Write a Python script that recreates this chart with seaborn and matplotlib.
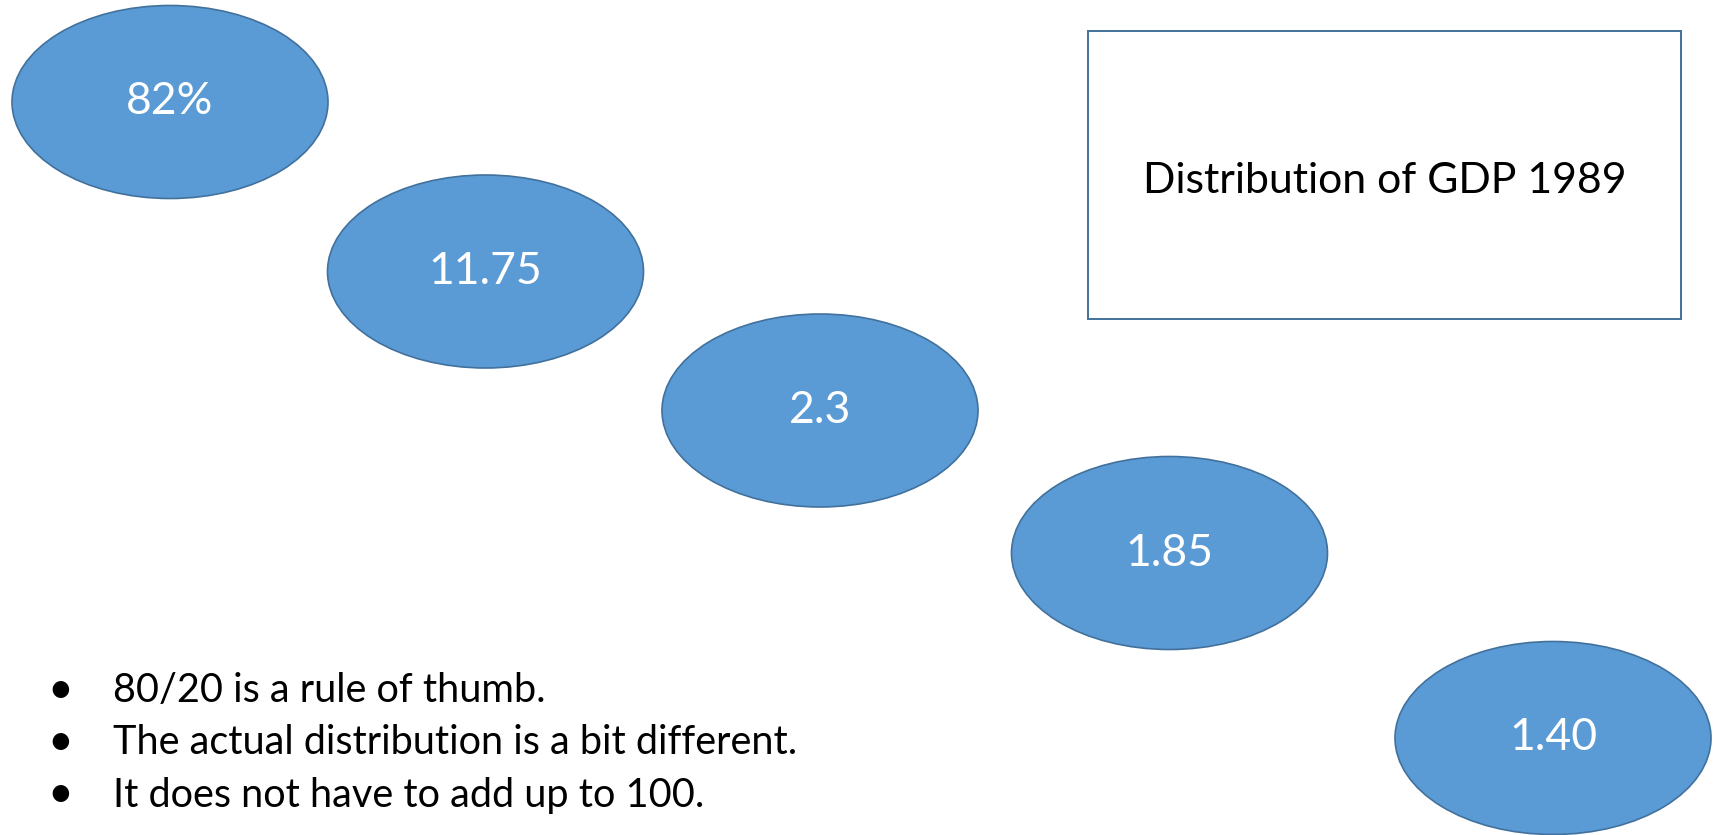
import matplotlib
matplotlib.use("Agg")
import matplotlib.pyplot as plt
from matplotlib.patches import Ellipse, Rectangle
import seaborn as sns

# GDP shares shown in the bubbles
share_labels = ["82%", "11.75", "2.3", "1.85", "1.40"]
title_text = "Distribution of GDP 1989"
notes = [
    "80/20 is a rule of thumb.",
    "The actual distribution is a bit different.",
    "It does not have to add up to 100.",
]

# layout (pixel space of the canvas)
W, H = 1714, 835
bubble_x = [170, 485.5, 820, 1169.5, 1553]
bubble_y = [102, 271.5, 410.5, 553, 738]
bubble_w, bubble_h = 316, 193
fill_col = "#5B9BD5"
edge_col = "#41719C"

sns.set_theme(style="white")
plt.rcParams["font.family"] = ["Lato", "DejaVu Sans"]

fig = plt.figure(figsize=(W / 100, H / 100), dpi=100)
ax = fig.add_axes([0, 0, 1, 1])
ax.set_xlim(0, W)
ax.set_ylim(H, 0)
ax.set_axis_off()

for x, y, lab in zip(bubble_x, bubble_y, share_labels):
    ax.add_patch(Ellipse((x, y), bubble_w, bubble_h, facecolor=fill_col,
                         edgecolor=edge_col, linewidth=1.2))
    ax.text(x, y, lab, color="white", fontsize=32, ha="center", va="center")

# title box
bx0, by0, bx1, by1 = 1088, 31, 1681, 319
ax.add_patch(Rectangle((bx0, by0), bx1 - bx0, by1 - by0, facecolor="white",
                       edgecolor=edge_col, linewidth=1.4))
ax.text((bx0 + bx1) / 2, 181, title_text, color="black", fontsize=30.8,
        ha="center", va="center")

# bullet notes
for i, line in enumerate(notes):
    y = 691 + i * 52
    ax.text(60, y, "\u2022", color="black", fontsize=32, ha="center", va="center")
    ax.text(113, y, line, color="black", fontsize=28.5, ha="left", va="center")

fig.savefig("out.png", dpi=100, facecolor="white")
